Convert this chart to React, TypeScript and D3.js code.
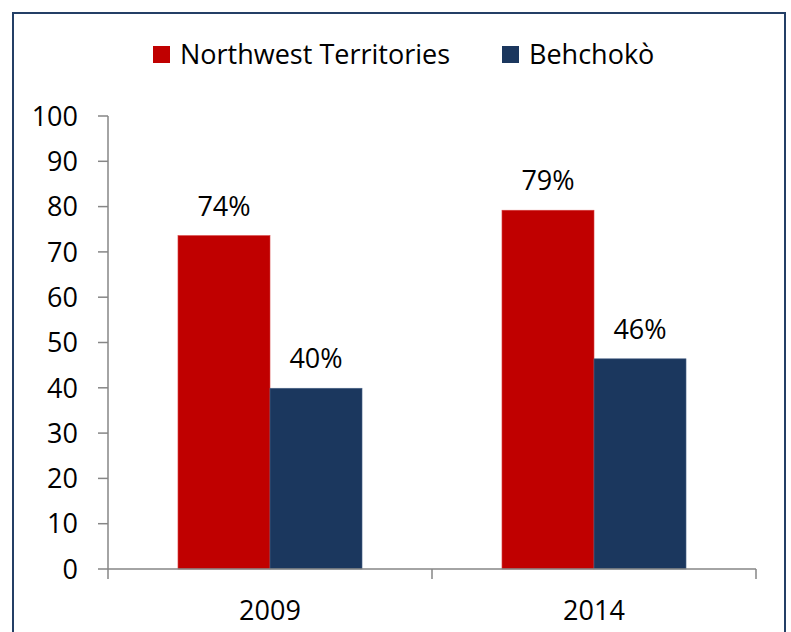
import React, { useEffect, useRef } from "react";
import * as d3 from "d3";

const years = ["2009", "2014"];
const seriesNames = ["Northwest Territories", "Behchokò"];
const nwtValues = [73.6, 79.2];
const behchokoValues = [39.9, 46.4];
const valueLabels = [["74%", "79%"], ["40%", "46%"]];
const yTicks = [0, 10, 20, 30, 40, 50, 60, 70, 80, 90, 100];

const colors = ["#C00000", "#1B375E"];
const font = "'Open Sans', sans-serif";
const fontSize = 27;

const App = () => {
    const svgRef = useRef(null);

    useEffect(() => {
        const width = 791;
        const height = 632;
        const svg = d3.select(svgRef.current).attr("width", width).attr("height", height);
        svg.selectAll("*").remove();

        svg.append("rect")
            .attr("width", width)
            .attr("height", height)
            .attr("fill", "#fff");

        // frame
        svg.append("rect")
            .attr("x", 13)
            .attr("y", 13)
            .attr("width", 772)
            .attr("height", 640)
            .attr("fill", "none")
            .attr("stroke", "#243F66")
            .attr("stroke-width", 2);

        const x0 = d3
            .scaleBand()
            .domain(years)
            .range([108, 756])
            .paddingInner(0.432)
            .paddingOuter(0.216);

        const x1 = d3
            .scaleBand()
            .domain(seriesNames)
            .range([0, x0.bandwidth()]);

        const y = d3.scaleLinear().domain([0, 100]).range([569, 116]);

        const series = [nwtValues, behchokoValues];

        // bars
        series.forEach((vals, si) => {
            svg.append("g")
                .selectAll("rect")
                .data(vals)
                .enter()
                .append("rect")
                .attr("x", (_d, i) => x0(years[i])! + x1(seriesNames[si])!)
                .attr("y", (d) => y(d))
                .attr("width", x1.bandwidth())
                .attr("height", (d) => y(0) - y(d))
                .attr("fill", colors[si])
                .attr("stroke", si === 0 ? "#D84040" : "#4A6488")
                .attr("stroke-width", 0.6);

            svg.append("g")
                .selectAll("text")
                .data(vals)
                .enter()
                .append("text")
                .attr("x", (_d, i) => x0(years[i])! + x1(seriesNames[si])! + x1.bandwidth() / 2)
                .attr("y", (d) => y(d) - 20)
                .attr("text-anchor", "middle")
                .attr("font-family", font)
                .attr("font-size", fontSize)
                .attr("fill", "#000")
                .text((_d, i) => valueLabels[si][i]);
        });

        // y axis
        const yAxis = svg.append("g").attr("transform", "translate(108,0)");
        yAxis.append("line")
            .attr("y1", y(100))
            .attr("y2", y(0))
            .attr("stroke", "#868686")
            .attr("stroke-width", 1.5);
        yAxis.selectAll(".tick")
            .data(yTicks)
            .enter()
            .append("line")
            .attr("x1", -10)
            .attr("x2", 0)
            .attr("y1", (d) => y(d))
            .attr("y2", (d) => y(d))
            .attr("stroke", "#868686")
            .attr("stroke-width", 1.5);
        yAxis.selectAll(".lbl")
            .data(yTicks)
            .enter()
            .append("text")
            .attr("x", -30)
            .attr("y", (d) => y(d))
            .attr("dy", "0.36em")
            .attr("text-anchor", "end")
            .attr("font-family", font)
            .attr("font-size", fontSize)
            .text((d) => d);

        // x axis
        const xAxis = svg.append("g").attr("transform", `translate(0,${y(0)})`);
        xAxis.append("line")
            .attr("x1", 108)
            .attr("x2", 756)
            .attr("stroke", "#868686")
            .attr("stroke-width", 1.5);
        const bounds = [108, x0(years[1])! - x0.step() * x0.paddingInner() / 2, 756];
        xAxis.selectAll(".tick")
            .data(bounds)
            .enter()
            .append("line")
            .attr("x1", (d) => d)
            .attr("x2", (d) => d)
            .attr("y1", 0)
            .attr("y2", 10)
            .attr("stroke", "#868686")
            .attr("stroke-width", 1.5);
        xAxis.selectAll(".lbl")
            .data(years)
            .enter()
            .append("text")
            .attr("x", (d) => x0(d)! + x0.bandwidth() / 2)
            .attr("y", 51)
            .attr("text-anchor", "middle")
            .attr("font-family", font)
            .attr("font-size", fontSize)
            .text((d) => d);

        // legend
        const legendX = [153, 502];
        const legend = svg.append("g");
        seriesNames.forEach((name, i) => {
            legend.append("rect")
                .attr("x", legendX[i])
                .attr("y", 46)
                .attr("width", 17)
                .attr("height", 17)
                .attr("fill", colors[i]);
            legend.append("text")
                .attr("x", legendX[i] + 27)
                .attr("y", 64)
                .attr("font-family", font)
                .attr("font-size", fontSize)
                .text(name);
        });
    }, []);

    return (
        <svg
            ref={svgRef}
            style={{ position: "absolute", left: 0, top: 0, display: "block" }}
        ></svg>
    );
};

export default App;
